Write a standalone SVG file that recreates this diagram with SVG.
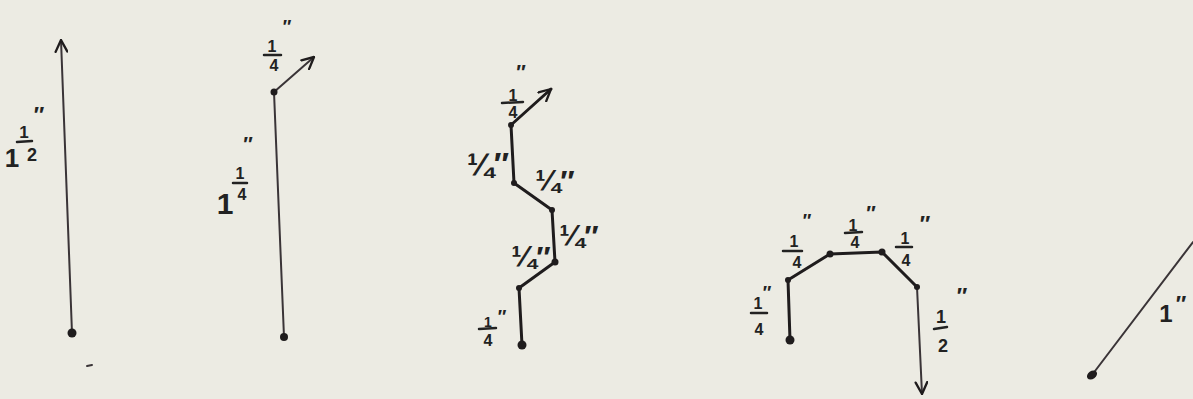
<svg xmlns="http://www.w3.org/2000/svg" width="1193" height="399" viewBox="0 0 1193 399">
<style>
.ln{fill:none;stroke:#3a3437;stroke-linecap:round;stroke-linejoin:round}
.thin{stroke-width:2}
.thick{stroke-width:3;stroke:#1f1c1d}
.dot{fill:#1f1c1d}
.t{font-family:"Liberation Sans",Arial,sans-serif;font-weight:bold;fill:#222;text-anchor:middle}
.bar{stroke:#222;stroke-width:2.5;stroke-linecap:round}
</style>
<defs>
<marker id="arr" viewBox="0 0 12 12" refX="11" refY="6" markerWidth="14" markerHeight="14" markerUnits="userSpaceOnUse" orient="auto">
<path d="M1,1 L11,6 L1,11" fill="none" stroke="#1f1c1d" stroke-width="2" stroke-linecap="round" stroke-linejoin="round"/>
</marker>
</defs>
<rect width="1193" height="399" fill="#ecebe3"/>

<g id="connectors">
<polyline class="ln thin" points="72,333 61,40" marker-end="url(#arr)"/>
<polyline class="ln thin" points="284,337 274,92"/>
<polyline class="ln thin" points="274,92 314,57" marker-end="url(#arr)"/>
<polyline class="ln thick" points="522,345 519,288 555,262 552,210 514,183 511,125 551,89" marker-end="url(#arr)"/>
<polyline class="ln thick" points="790,340 788,280 830,254 882,252 917,287"/>
<polyline class="ln thin" points="917,287 922,394" marker-end="url(#arr)"/>
<polyline class="ln thin" points="1092,375 1193,242"/>
<line class="ln thin" x1="87" y1="366" x2="92" y2="365"/>
</g>

<g id="fig1">
<circle class="dot" cx="72" cy="333" r="4.5"/>
<g id="fig1-label">
<text class="t" x="12" y="167" font-size="26">1</text>
<text class="t" x="24" y="138" font-size="17">1</text>
<line class="bar" x1="17" y1="142" x2="32" y2="141"/>
<text class="t" x="32" y="161" font-size="18">2</text>
<text class="t" x="39" y="122" font-size="22">″</text>
</g>
</g>

<g id="fig2">
<circle class="dot" cx="284" cy="337" r="4"/>
<circle class="dot" cx="274" cy="92" r="3.5"/>
<g id="fig2-label-top">
<text class="t" x="272" y="52" font-size="16">1</text>
<line class="bar" x1="264" y1="55" x2="281" y2="55"/>
<text class="t" x="274" y="71" font-size="16">4</text>
<text class="t" x="287" y="33" font-size="18">″</text>
</g>
<g id="fig2-label-left">
<text class="t" x="225" y="214" font-size="30">1</text>
<text class="t" x="240" y="179" font-size="16">1</text>
<line class="bar" x1="233" y1="183" x2="247" y2="183"/>
<text class="t" x="242" y="200" font-size="16">4</text>
<text class="t" x="248" y="151" font-size="20">″</text>
</g>
</g>

<g id="fig3">
<circle class="dot" cx="522" cy="345" r="4.5"/>
<circle class="dot" cx="519" cy="288" r="3"/>
<circle class="dot" cx="555" cy="262" r="3.5"/>
<circle class="dot" cx="552" cy="210" r="3"/>
<circle class="dot" cx="514" cy="183" r="3"/>
<circle class="dot" cx="511" cy="125" r="3"/>
<g id="fig3-label-top">
<text class="t" x="513" y="101" font-size="16">1</text>
<line class="bar" x1="502" y1="103" x2="523" y2="102"/>
<text class="t" x="513" y="118" font-size="16">4</text>
<text class="t" x="521" y="79" font-size="20">″</text>
</g>
<g id="fig3-label-left">
<text class="t" x="488" y="175" font-size="32">¼″</text>
</g>
<g id="fig3-label-mid">
<text class="t" x="555" y="191" font-size="30">¼″</text>
</g>
<g id="fig3-label-right">
<text class="t" x="579" y="246" font-size="30">¼″</text>
</g>
<g id="fig3-label-low">
<text class="t" x="531" y="267" font-size="30">¼″</text>
</g>
<g id="fig3-label-bottom">
<text class="t" x="488" y="327" font-size="14">1</text>
<line class="bar" x1="479" y1="329" x2="496" y2="328"/>
<text class="t" x="488" y="346" font-size="16">4</text>
<text class="t" x="502" y="323" font-size="18">″</text>
</g>
</g>

<g id="fig4">
<circle class="dot" cx="790" cy="340" r="4.5"/>
<circle class="dot" cx="788" cy="280" r="3"/>
<circle class="dot" cx="830" cy="254" r="3.5"/>
<circle class="dot" cx="882" cy="252" r="3.5"/>
<circle class="dot" cx="917" cy="287" r="3"/>
<g id="fig4-label-left">
<text class="t" x="758" y="309" font-size="16">1</text>
<line class="bar" x1="751" y1="313" x2="767" y2="313"/>
<text class="t" x="759" y="335" font-size="16">4</text>
<text class="t" x="767" y="299" font-size="18">″</text>
</g>
<g id="fig4-label-a">
<text class="t" x="794" y="247" font-size="16">1</text>
<line class="bar" x1="783" y1="251" x2="802" y2="251"/>
<text class="t" x="797" y="268" font-size="16">4</text>
<text class="t" x="807" y="227" font-size="18">″</text>
</g>
<g id="fig4-label-b">
<text class="t" x="853" y="231" font-size="16">1</text>
<line class="bar" x1="845" y1="233" x2="862" y2="232"/>
<text class="t" x="855" y="248" font-size="16">4</text>
<text class="t" x="871" y="220" font-size="20">″</text>
</g>
<g id="fig4-label-c">
<text class="t" x="905" y="244" font-size="16">1</text>
<line class="bar" x1="896" y1="247" x2="912" y2="247"/>
<text class="t" x="906" y="266" font-size="16">4</text>
<text class="t" x="925" y="231" font-size="22">″</text>
</g>
<g id="fig4-label-d">
<text class="t" x="941" y="323" font-size="18">1</text>
<line class="bar" x1="934" y1="329" x2="947" y2="327"/>
<text class="t" x="943" y="352" font-size="18">2</text>
<text class="t" x="962" y="303" font-size="22">″</text>
</g>
</g>

<g id="fig5">
<ellipse class="dot" cx="1092" cy="375" rx="5.5" ry="4" transform="rotate(-35 1092 375)"/>
<g id="fig5-label">
<text class="t" x="1166" y="322" font-size="24">1</text>
<text class="t" x="1181" y="311" font-size="22">″</text>
</g>
</g>
</svg>
